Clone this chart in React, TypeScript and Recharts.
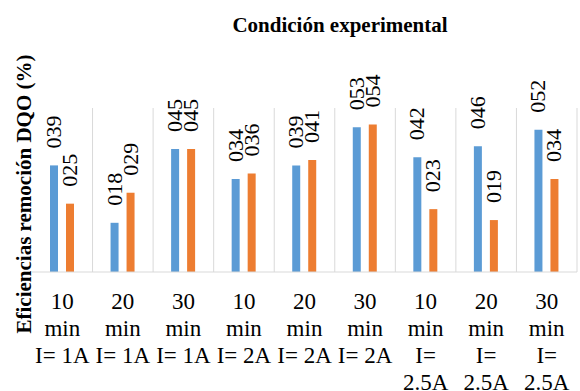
import { Bar, BarChart, CartesianGrid, LabelList, XAxis, YAxis } from 'recharts';

const categories = [
  '10 min I= 1A',
  '20 min I= 1A',
  '30 min I= 1A',
  '10 min I= 2A',
  '20 min I= 2A',
  '30 min I= 2A',
  '10 min I= 2.5A',
  '20 min I= 2.5A',
  '30 min I= 2.5A',
];
const serieA = [39, 18, 45, 34, 39, 53, 42, 46, 52];
const serieB = [25, 29, 45, 36, 41, 54, 23, 19, 34];

const data = categories.map((name, i) => ({ name, a: serieA[i], b: serieB[i] }));

const SERIF = "'Liberation Serif', 'Times New Roman', serif";
const GRID = '#D9D9D9';

const fmt = (v: number) => '0' + v;

let ctx: CanvasRenderingContext2D | null = null;
function measure(s: string, font: string) {
  if (!ctx) ctx = document.createElement('canvas').getContext('2d');
  if (!ctx) return s.length * 10;
  ctx.font = font;
  return ctx.measureText(s).width;
}

// greedy word wrap, like the spreadsheet does for category labels
function wrap(label: string, maxWidth: number, font: string) {
  const words = label.split(' ');
  const lines: string[] = [];
  let cur = '';
  for (const w of words) {
    const next = cur ? cur + ' ' + w : w;
    if (cur && measure(next, font) > maxWidth) {
      lines.push(cur);
      cur = w;
    } else {
      cur = next;
    }
  }
  if (cur) lines.push(cur);
  return lines;
}

function BarLabel(props: any) {
  const { x, y, width, value } = props;
  const cx = Number(x) + Number(width) / 2 + 7;
  const cy = Number(y) - 17;
  return (
    <text
      x={cx}
      y={cy}
      transform={`rotate(-90 ${cx} ${cy})`}
      textAnchor="start"
      style={{ fontFamily: SERIF, fontSize: 22 }}
      fill="#000"
    >
      {fmt(value)}
    </text>
  );
}

function CategoryTick(props: any) {
  const { x, y, payload } = props;
  const lines = wrap(String(payload.value), 60, `23px ${SERIF}`);
  return (
    <text x={x} y={Number(y) + 29} textAnchor="middle" style={{ fontFamily: SERIF, fontSize: 23 }} fill="#000">
      {lines.map((l, i) => (
        <tspan key={i} x={x} dy={i === 0 ? 0 : 27}>
          {l}
        </tspan>
      ))}
    </text>
  );
}

export default function App() {
  return (
    <div style={{ position: 'absolute', left: 0, top: 0, width: 580, height: 391, background: '#fff' }}>
      <BarChart
        width={580}
        height={391}
        data={data}
        margin={{ top: 108, right: 3, bottom: 0, left: 32 }}
        barSize={8}
        barGap={8}
      >
        <CartesianGrid
          horizontal={false}
          stroke={GRID}
          verticalCoordinatesGenerator={({ offset }: any) =>
            categories.map((_, i) => offset.left + ((i + 1) * offset.width) / categories.length)
          }
        />
        <XAxis
          dataKey="name"
          height={119}
          interval={0}
          tickLine={false}
          axisLine={{ stroke: GRID }}
          tick={<CategoryTick />}
        />
        <YAxis hide domain={[0, 60]} />
        <Bar dataKey="a" fill="#5B9BD5" isAnimationActive={false}>
          <LabelList dataKey="a" content={<BarLabel />} />
        </Bar>
        <Bar dataKey="b" fill="#ED7D31" isAnimationActive={false}>
          <LabelList dataKey="b" content={<BarLabel />} />
        </Bar>
      </BarChart>
      <svg width={580} height={391} style={{ position: 'absolute', left: 0, top: 0, pointerEvents: 'none' }}>
        <text
          x={340}
          y={32}
          textAnchor="middle"
          style={{ fontFamily: SERIF, fontWeight: 'bold', fontSize: 21 }}
          fill="#000"
        >
          Condición experimental
        </text>
        <text
          x={31}
          y={194}
          transform="rotate(-90 31 194)"
          textAnchor="middle"
          style={{ fontFamily: SERIF, fontWeight: 'bold', fontSize: 21 }}
          fill="#000"
        >
          Eficiencias remoción DQO (%)
        </text>
      </svg>
    </div>
  );
}
